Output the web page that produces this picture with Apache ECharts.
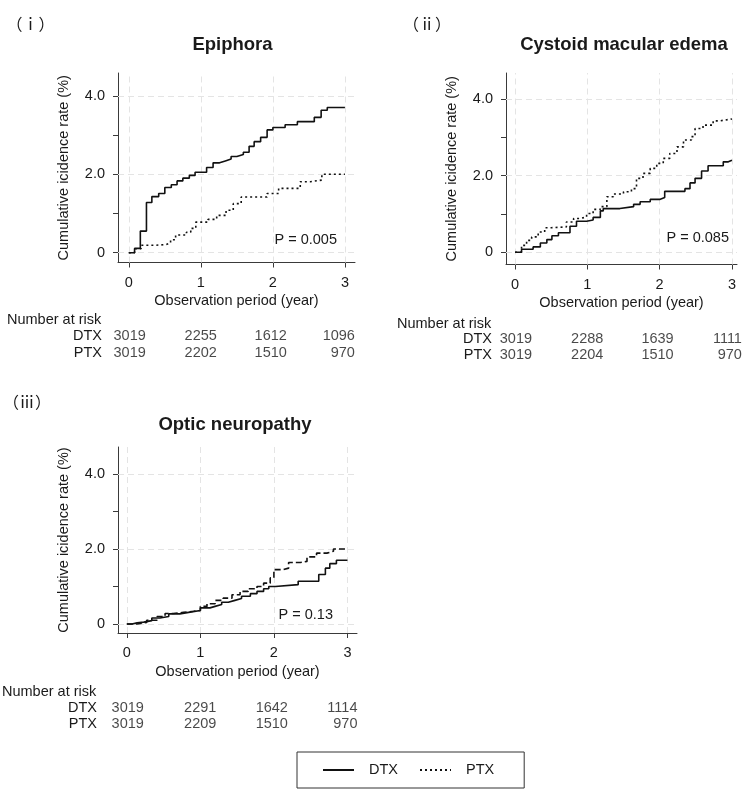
<!DOCTYPE html>
<html><head><meta charset="utf-8">
<script src="https://cdn.jsdelivr.net/npm/echarts@6/dist/echarts.min.js"></script>
<style>html,body{margin:0;padding:0;background:#fff}#c{width:749px;height:790px}</style>
</head><body><div id="c"></div>
<script>
// ---------- data ----------
const xTicks = [0, 1, 2, 3];
const yTicks = [0, 1, 2, 3, 4];
const yLabelTicks = [0, 2, 4];
const riskTimes = [0, 1, 2, 3];
const groups = ['DTX', 'PTX'];
const titles = ['Epiphora', 'Cystoid macular edema', 'Optic neuropathy'];
const panelLabels = ['（ⅰ）', '（ⅱ）', '（ⅲ）'];
const pValues = ['P = 0.005', 'P = 0.085', 'P = 0.13'];
const xTitle = 'Observation period (year)';
const yTitle = 'Cumulative icidence rate (%)';
const riskTitle = 'Number at risk';

const epiDTX = [[0,0],[0.08,0.11],[0.16,0.55],[0.245,1.28],[0.32,1.43],[0.415,1.51],[0.50,1.66],[0.59,1.73],[0.67,1.83],[0.75,1.90],[0.84,1.97],[0.92,2.05],[1.08,2.17],[1.17,2.29],[1.26,2.34],[1.34,2.39],[1.42,2.45],[1.50,2.50],[1.59,2.56],[1.67,2.71],[1.74,2.83],[1.83,2.94],[1.92,3.13],[2.00,3.19],[2.17,3.26],[2.34,3.34],[2.575,3.45],[2.67,3.63],[2.755,3.70],[3.0,3.70]];
const epiPTX = [[0,0],[0.08,0.10],[0.17,0.19],[0.38,0.21],[0.52,0.25],[0.58,0.33],[0.65,0.45],[0.80,0.52],[0.86,0.62],[0.93,0.78],[1.10,0.85],[1.22,0.95],[1.35,1.08],[1.45,1.25],[1.56,1.42],[1.92,1.51],[2.08,1.64],[2.38,1.81],[2.52,1.85],[2.68,2.00],[3.0,2.00]];
const cmeDTX = [[0,0],[0.09,0.08],[0.25,0.14],[0.35,0.24],[0.44,0.33],[0.51,0.43],[0.60,0.51],[0.76,0.68],[0.85,0.81],[0.99,0.84],[1.08,0.91],[1.18,1.08],[1.22,1.14],[1.45,1.19],[1.64,1.25],[1.73,1.32],[1.87,1.38],[2.00,1.43],[2.07,1.59],[2.35,1.66],[2.42,1.81],[2.49,1.93],[2.58,2.12],[2.67,2.26],[2.88,2.36],[2.95,2.40],[3.0,2.40]];
const cmePTX = [[0,0],[0.09,0.18],[0.16,0.31],[0.23,0.40],[0.32,0.53],[0.41,0.64],[0.50,0.66],[0.71,0.79],[0.81,0.88],[0.90,0.92],[0.99,1.01],[1.08,1.12],[1.18,1.19],[1.27,1.45],[1.36,1.52],[1.50,1.58],[1.61,1.66],[1.68,1.93],[1.77,2.06],[1.87,2.19],[1.96,2.32],[2.05,2.45],[2.14,2.58],[2.24,2.75],[2.33,2.93],[2.44,3.02],[2.49,3.23],[2.60,3.32],[2.74,3.43],[2.83,3.48],[3.0,3.48]];
const onDTX = [[0,0],[0.07,0.03],[0.14,0.05],[0.23,0.09],[0.34,0.16],[0.45,0.20],[0.57,0.27],[0.72,0.31],[0.84,0.36],[1.00,0.43],[1.13,0.47],[1.20,0.52],[1.29,0.58],[1.38,0.63],[1.47,0.68],[1.56,0.74],[1.68,0.81],[1.77,0.87],[1.86,0.94],[1.93,1.00],[2.02,1.05],[2.33,1.14],[2.61,1.32],[2.70,1.49],[2.76,1.61],[2.85,1.70],[3.0,1.70]];
const onPTX = [[0,0],[0.14,0.04],[0.27,0.10],[0.41,0.20],[0.52,0.28],[0.63,0.31],[0.77,0.34],[0.91,0.36],[1.00,0.47],[1.09,0.54],[1.20,0.63],[1.31,0.69],[1.43,0.78],[1.54,0.87],[1.65,0.94],[1.77,1.00],[1.86,1.09],[1.95,1.23],[2.00,1.45],[2.13,1.49],[2.20,1.64],[2.36,1.67],[2.45,1.79],[2.58,1.89],[2.72,1.94],[2.81,2.00],[3.0,2.00]];

const epiDTXRisk = [3019, 2255, 1612, 1096];
const epiPTXRisk = [3019, 2202, 1510, 970];
const cmeDTXRisk = [3019, 2288, 1639, 1111];
const cmePTXRisk = [3019, 2204, 1510, 970];
const onDTXRisk = [3019, 2291, 1642, 1114];
const onPTXRisk = [3019, 2209, 1510, 970];

const curves = [[epiDTX, epiPTX], [cmeDTX, cmePTX], [onDTX, onPTX]];
const risks = [[epiDTXRisk, epiPTXRisk], [cmeDTXRisk, cmePTXRisk], [onDTXRisk, onPTXRisk]];

// ---------- layout / style ----------
const FONT = '"Liberation Sans", Arial, Helvetica, sans-serif';
const CJK = '"Noto Sans CJK JP", "Noto Sans CJK SC", sans-serif';
const TXT = '#1a1a1a';
const AX = '#3a3a3a';
const FS = 14.5;
const riskOffsets = [17, 16, 14, 10];
const ptxDash = [[2, 3], [2, 3], [6, 3]];

const layout = [
  {grid: {left: 118, top: 73, width: 237, height: 189.5}, xr: [-0.15, 3.14], yr: [-0.25, 4.58],
   risk: {top: 327.5, height: 34, margin: 16}, nar: [7, 320], title: [232.5, 45], label: [6.5, 24], p: [337, 240]},
  {grid: {left: 506, top: 73, width: 231, height: 191.5}, xr: [-0.125, 3.07], yr: [-0.32, 4.68],
   risk: {top: 331, height: 32, margin: 14}, nar: [397, 324], title: [624, 45], label: [403, 24], p: [729, 238]},
  {grid: {left: 118, top: 447, width: 239, height: 186}, xr: [-0.12, 3.13], yr: [-0.24, 4.72],
   risk: {top: 700, height: 32, margin: 21}, nar: [2, 692], title: [235, 425], label: [3, 402], p: [333, 615]}
];

const grids = [], xAxes = [], yAxes = [], series = [], graphics = [];

layout.forEach((L, k) => {
  grids.push(Object.assign({containLabel: false}, L.grid));
  xAxes.push({
    type: 'value', gridIndex: k, min: L.xr[0], max: L.xr[1],
    axisLine: {show: true, onZero: false, lineStyle: {color: AX, width: 1}},
    axisTick: {show: true, length: 5, customValues: xTicks, lineStyle: {color: AX, width: 1}},
    axisLabel: {customValues: xTicks, margin: 12.5, fontSize: FS, color: TXT, fontFamily: FONT},
    splitLine: {show: false},
    name: xTitle, nameLocation: 'middle', nameGap: 31,
    nameTextStyle: {fontSize: FS, color: TXT, fontFamily: FONT}
  });
  yAxes.push({
    type: 'value', gridIndex: k, min: L.yr[0], max: L.yr[1],
    axisLine: {show: true, onZero: false, lineStyle: {color: AX, width: 1}},
    axisTick: {show: true, length: 5, customValues: yTicks, lineStyle: {color: AX, width: 1}},
    axisLabel: {customValues: yLabelTicks, margin: 13, fontSize: FS, color: TXT, fontFamily: FONT,
      formatter: v => v === 0 ? '0' : v.toFixed(1)},
    splitLine: {show: false},
    name: yTitle, nameLocation: 'middle', nameGap: 47,
    nameTextStyle: {fontSize: FS, color: TXT, fontFamily: FONT}
  });
  const gridMarks = xTicks.map(v => ({xAxis: v})).concat(yLabelTicks.map(v => ({yAxis: v})));
  groups.forEach((g, gi) => {
    const s = {
      type: 'line', name: g, xAxisIndex: k, yAxisIndex: k, data: curves[k][gi],
      step: 'end', symbol: 'none', showSymbol: false, animation: false, z: 3,
      lineStyle: {color: '#111', width: 1.6, type: gi === 0 ? 'solid' : ptxDash[k]},
      itemStyle: {color: '#111'}
    };
    if (gi === 0) {
      s.markLine = {
        silent: true, symbol: 'none', z: 1, animation: false, label: {show: false},
        lineStyle: {color: '#e4e4e4', width: 1, type: [6, 4]}, data: gridMarks
      };
    }
    series.push(s);
  });

  graphics.push({type: 'text', x: L.title[0], y: L.title[1], style: {text: titles[k], fill: TXT,
    font: 'bold 18.5px ' + FONT, align: 'center', verticalAlign: 'middle'}});
  graphics.push({type: 'text', x: L.label[0], y: L.label[1], style: {text: panelLabels[k], fill: TXT,
    font: '16px ' + CJK, align: 'left', verticalAlign: 'middle'}});
  graphics.push({type: 'text', x: L.nar[0], y: L.nar[1], style: {text: riskTitle, fill: TXT,
    font: FS + 'px ' + FONT, align: 'left', verticalAlign: 'middle'}});
  graphics.push({type: 'text', x: L.p[0], y: L.p[1], style: {text: pValues[k], fill: TXT,
    font: FS + 'px ' + FONT, align: 'right', verticalAlign: 'middle'}});
});

// risk tables
layout.forEach((L, k) => {
  const gi = 3 + k;
  grids.push({left: L.grid.left, width: L.grid.width, top: L.risk.top, height: L.risk.height});
  xAxes.push({type: 'value', gridIndex: gi, min: L.xr[0], max: L.xr[1], show: false});
  yAxes.push({
    type: 'category', gridIndex: gi, data: groups, inverse: true,
    axisLine: {show: false}, axisTick: {show: false}, splitLine: {show: false},
    axisLabel: {interval: 0, margin: L.risk.margin, fontSize: FS, color: TXT, fontFamily: FONT}
  });
  const data = [];
  groups.forEach((g, r) => {
    riskTimes.forEach((t, i) => {
      data.push({value: [t, g, risks[k][r][i]], label: {offset: [riskOffsets[i], 0]}});
    });
  });
  series.push({
    type: 'scatter', name: 'risk' + k, xAxisIndex: gi, yAxisIndex: gi, data: data,
    symbolSize: 1, itemStyle: {color: 'rgba(0,0,0,0)'}, animation: false, silent: true,
    encode: {x: 0, y: 1},
    label: {show: true, position: 'inside', align: 'right', verticalAlign: 'middle',
      fontSize: FS, color: TXT, fontFamily: FONT, formatter: p => String(p.value[2])}
  });
});

const option = {
  backgroundColor: '#fff',
  animation: false,
  grid: grids, xAxis: xAxes, yAxis: yAxes, series: series,
  legend: {
    data: groups, left: 297, top: 752, orient: 'horizontal',
    borderColor: '#333', borderWidth: 1, padding: [10.5, 30, 10.5, 25],
    itemWidth: 31, itemHeight: 14, itemGap: 21, selectedMode: false,
    itemStyle: {opacity: 0},
    formatter: name => '{t|' + name + '}',
    textStyle: {fontSize: FS, color: TXT, fontFamily: FONT,
      rich: {t: {fontSize: FS, color: TXT, fontFamily: FONT, padding: [0, 0, 0, 10]}}}
  },
  graphic: graphics
};

const chart = echarts.init(document.getElementById('c'), null, {renderer: 'canvas'});
chart.setOption(option);
</script></body></html>
